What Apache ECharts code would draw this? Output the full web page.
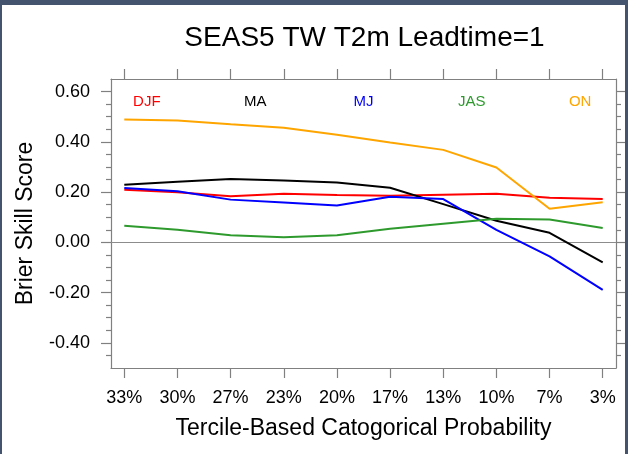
<!DOCTYPE html>
<html>
<head>
<meta charset="utf-8">
<script src="https://cdn.jsdelivr.net/npm/echarts@6/dist/echarts.min.js"></script>
<style>
  html, body { margin: 0; padding: 0; background: #ffffff; }
  #chart { position: absolute; left: 0; top: 0; width: 628px; height: 454px; }
  .bd { position: absolute; background: #44546e; z-index: 10; }
</style>
</head>
<body>
<div id="chart"></div>
<div class="bd" style="left:0;top:0;width:628px;height:5px;"></div>
<div class="bd" style="left:0;top:0;width:2px;height:454px;"></div>
<div class="bd" style="left:625px;top:0;width:3px;height:454px;"></div>
<script>
const categories = ['33%','30%','27%','23%','20%','17%','13%','10%','7%','3%'];
const djf = [0.209, 0.199, 0.183, 0.193, 0.188, 0.185, 0.189, 0.193, 0.177, 0.172];
const ma  = [0.229, 0.241, 0.252, 0.246, 0.238, 0.217, 0.152, 0.086, 0.038, -0.080];
const mj  = [0.216, 0.203, 0.170, 0.159, 0.147, 0.181, 0.172, 0.050, -0.056, -0.189];
const jas = [0.066, 0.050, 0.028, 0.020, 0.028, 0.054, 0.074, 0.094, 0.091, 0.057];
const on  = [0.489, 0.485, 0.470, 0.456, 0.428, 0.397, 0.368, 0.298, 0.134, 0.160];
const yMajor = [-0.4, -0.2, 0, 0.2, 0.4, 0.6];
const yMinor = [-0.45, -0.35, -0.3, -0.25, -0.15, -0.1, -0.05, 0.05, 0.1, 0.15, 0.25, 0.3, 0.35, 0.45, 0.5, 0.55];
const seasonNames = ['DJF', 'MA', 'MJ', 'JAS', 'ON'];
const seasonColors = ['#ff0000', '#000000', '#0000ff', '#2e9a2e', '#ffa500'];
const titleText = 'SEAS5 TW T2m Leadtime=1';
const xTitle = 'Tercile-Based Catogorical Probability';
const yTitle = 'Brier Skill Score';

const FONT = "'Liberation Sans', Arial, Helvetica, sans-serif";
const AX = '#808080';
const xIdx = categories.map((c, i) => i);
const seriesValues = [djf, ma, mj, jas, on];

const chart = echarts.init(document.getElementById('chart'), null, { renderer: 'canvas' });

const plotLeft = 111, plotRight = 616;
const plotCenter = (plotLeft + plotRight) / 2;
const plotW = plotRight - plotLeft;

function xAxisBase(pos) {
  return {
    type: 'value', position: pos, min: -0.25, max: 9.25,
    axisLine: { show: true, onZero: false, lineStyle: { color: AX, width: 1.2 } },
    axisTick: { show: true, inside: false, length: 10, customValues: xIdx, lineStyle: { color: AX, width: 1.2 } },
    splitLine: { show: false },
    axisLabel: { show: false }
  };
}
function yAxisBase(pos, vals, len, labels, line) {
  return {
    type: 'value', position: pos, min: -0.5, max: 0.65,
    axisLine: { show: line, onZero: false, lineStyle: { color: AX, width: 1.2 } },
    axisTick: { show: true, inside: false, length: len, customValues: vals, lineStyle: { color: AX, width: 1.2 } },
    splitLine: { show: false },
    axisLabel: { show: false }
  };
}

const xBottom = xAxisBase('bottom');
xBottom.axisLabel = {
  show: true, customValues: xIdx, margin: 21,
  formatter: v => categories[Math.round(v)],
  fontFamily: FONT, fontSize: 18, color: '#000'
};
xBottom.name = xTitle;
xBottom.nameLocation = 'middle';
xBottom.nameGap = 49;
xBottom.nameTextStyle = { fontFamily: FONT, fontSize: 23, color: '#000' };

const yLeft = yAxisBase('left', yMajor, 10, true, true);
yLeft.axisLabel = {
  show: true, customValues: yMajor, margin: 21,
  formatter: v => v.toFixed(2),
  fontFamily: FONT, fontSize: 18, color: '#000'
};
yLeft.name = yTitle;
yLeft.nameLocation = 'middle';
yLeft.nameGap = 74;
yLeft.nameRotate = 90;
yLeft.nameTextStyle = { fontFamily: FONT, fontSize: 23, color: '#000' };

const series = seriesValues.map((vals, k) => ({
  type: 'line',
  name: seasonNames[k],
  xAxisIndex: 0, yAxisIndex: 0,
  data: vals.map((v, i) => [xIdx[i], v]),
  symbol: 'none', smooth: false,
  lineStyle: { color: seasonColors[k], width: 2 },
  z: 3 + k,
  silent: true
}));
series[0].markLine = {
  silent: true, symbol: 'none', label: { show: false },
  lineStyle: { color: '#8c8c8c', width: 1.2, type: 'solid' },
  data: [{ yAxis: 0 }],
  z: 1
};

const labelGraphics = seasonNames.map((n, k) => ({
  type: 'text',
  x: plotLeft + plotW * (0.071 + k * 0.2145),
  y: 101.5,
  style: {
    text: n, fill: seasonColors[k], font: '15px ' + FONT,
    align: 'center', verticalAlign: 'middle',
    textAlign: 'center', textVerticalAlign: 'middle'
  },
  z: 50
}));

chart.setOption({
  backgroundColor: '#ffffff',
  animation: false,
  grid: { left: plotLeft, right: 628 - plotRight, top: 79, bottom: 454 - 368, containLabel: false },
  xAxis: [xBottom, xAxisBase('top')],
  yAxis: [
    yLeft,
    yAxisBase('left', yMinor, 5, false, false),
    yAxisBase('right', yMajor, 10, false, true),
    yAxisBase('right', yMinor, 5, false, false)
  ],
  series: series,
  graphic: [
    {
      type: 'text', x: plotCenter + 1, y: 38.5,
      style: {
        text: titleText, fill: '#000', font: '28px ' + FONT,
        align: 'center', verticalAlign: 'middle',
        textAlign: 'center', textVerticalAlign: 'middle'
      }
    }
  ].concat(labelGraphics)
});
</script>
</body>
</html>
